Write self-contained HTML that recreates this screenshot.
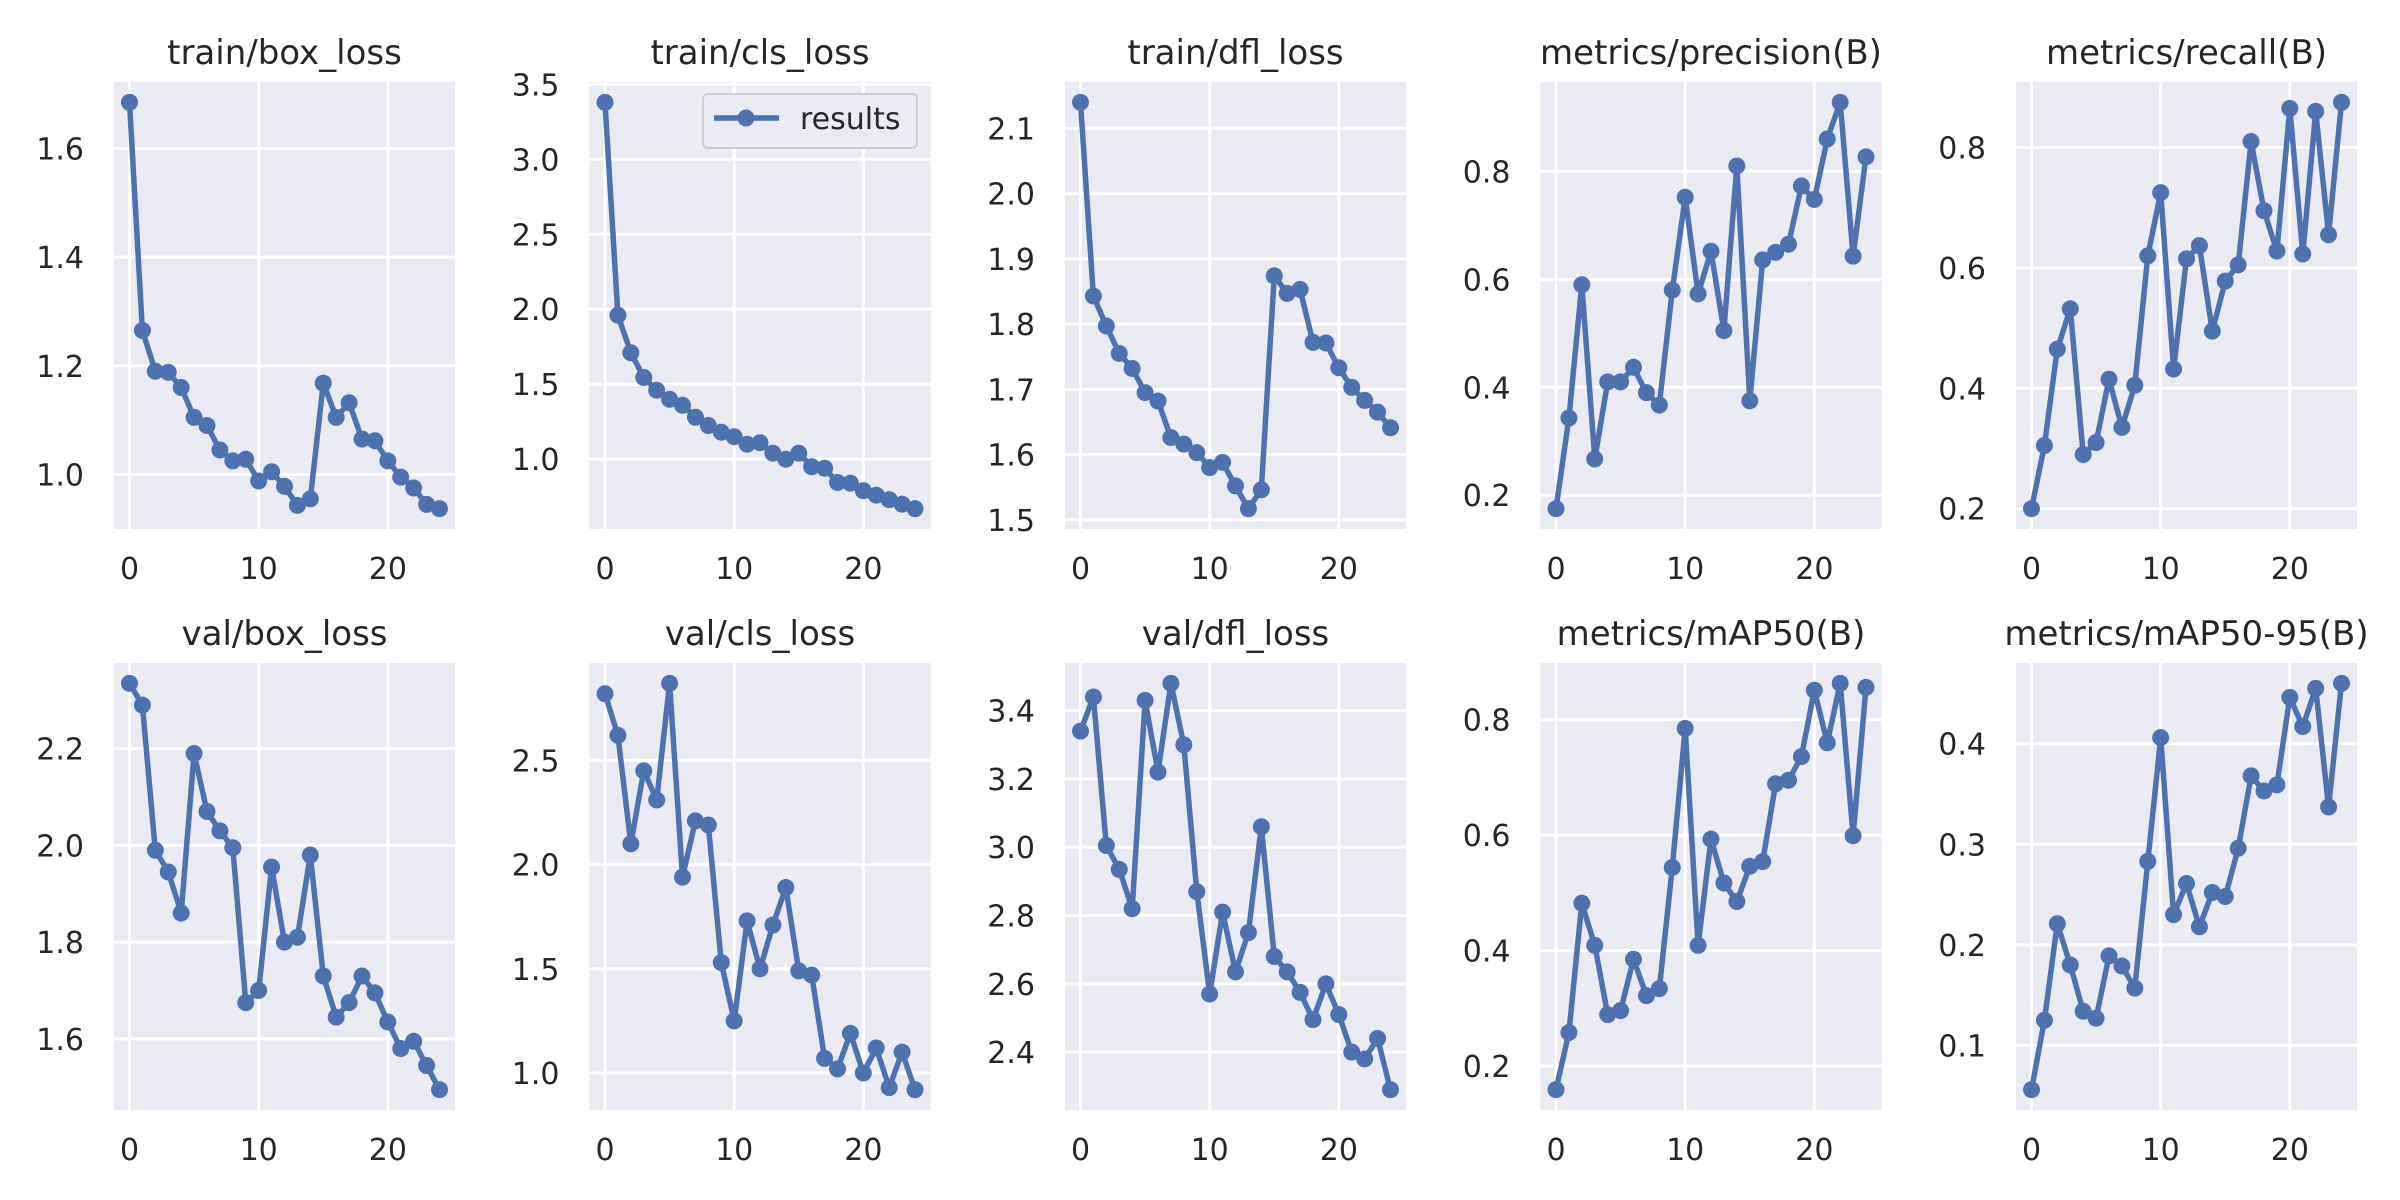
<!DOCTYPE html>
<html><head><meta charset="utf-8"><style>
html,body{margin:0;padding:0;background:#fff;}
svg{display:block;font-family:"DejaVu Sans","Liberation Sans",sans-serif;}
</style></head><body>
<svg id="fig" width="2400" height="1200" viewBox="0 0 2400 1200" xmlns="http://www.w3.org/2000/svg"></svg>
<script>
const titles = ["train/box_loss","train/cls_loss","train/dfl_loss","metrics/precision(B)","metrics/recall(B)","val/box_loss","val/cls_loss","val/dfl_loss","metrics/mAP50(B)","metrics/mAP50-95(B)"];
const epochs = [0,1,2,3,4,5,6,7,8,9,10,11,12,13,14,15,16,17,18,19,20,21,22,23,24];
const xTicks = [0,10,20];
const trainBox = [1.685,1.265,1.19,1.188,1.16,1.105,1.09,1.045,1.025,1.028,0.988,1.005,0.978,0.943,0.955,1.168,1.105,1.132,1.065,1.062,1.025,0.995,0.975,0.945,0.937];
const trainCls = [3.38,1.96,1.71,1.545,1.46,1.40,1.36,1.28,1.225,1.18,1.15,1.10,1.11,1.04,1.0,1.04,0.95,0.94,0.845,0.84,0.79,0.76,0.73,0.70,0.67];
const trainDfl = [2.14,1.843,1.797,1.755,1.732,1.695,1.682,1.626,1.616,1.603,1.58,1.588,1.552,1.517,1.546,1.874,1.847,1.853,1.772,1.771,1.733,1.703,1.683,1.665,1.641];
const precision = [0.175,0.343,0.59,0.267,0.41,0.41,0.437,0.39,0.367,0.58,0.752,0.573,0.652,0.505,0.81,0.375,0.636,0.65,0.665,0.773,0.748,0.86,0.928,0.643,0.827];
const recall = [0.2,0.305,0.465,0.532,0.29,0.31,0.415,0.335,0.405,0.62,0.725,0.432,0.615,0.637,0.495,0.578,0.605,0.81,0.695,0.628,0.865,0.623,0.86,0.655,0.875];
const valBox = [2.335,2.29,1.99,1.945,1.86,2.19,2.07,2.03,1.995,1.675,1.70,1.955,1.80,1.81,1.98,1.73,1.645,1.675,1.73,1.695,1.635,1.58,1.595,1.545,1.495];
const valCls = [2.82,2.62,2.10,2.45,2.31,2.87,1.94,2.21,2.19,1.53,1.25,1.73,1.50,1.71,1.89,1.49,1.47,1.07,1.02,1.19,1.00,1.12,0.93,1.10,0.92];
const valDfl = [3.34,3.44,3.005,2.935,2.82,3.43,3.22,3.48,3.30,2.87,2.57,2.81,2.635,2.75,3.06,2.68,2.635,2.575,2.495,2.60,2.51,2.40,2.38,2.44,2.29];
const map50 = [0.159,0.258,0.482,0.409,0.289,0.296,0.385,0.322,0.334,0.544,0.785,0.409,0.593,0.517,0.485,0.546,0.554,0.689,0.695,0.736,0.851,0.760,0.863,0.599,0.856];
const map5095 = [0.056,0.125,0.221,0.180,0.134,0.127,0.189,0.179,0.157,0.283,0.406,0.230,0.261,0.218,0.252,0.248,0.296,0.368,0.353,0.359,0.446,0.417,0.455,0.337,0.460];
const yTicks0 = ["1.0","1.2","1.4","1.6"];
const yTicks1 = ["1.0","1.5","2.0","2.5","3.0","3.5"];
const yTicks2 = ["1.5","1.6","1.7","1.8","1.9","2.0","2.1"];
const yTicks3 = ["0.2","0.4","0.6","0.8"];
const yTicks4 = ["0.2","0.4","0.6","0.8"];
const yTicks5 = ["1.6","1.8","2.0","2.2"];
const yTicks6 = ["1.0","1.5","2.0","2.5"];
const yTicks7 = ["2.4","2.6","2.8","3.0","3.2","3.4"];
const yTicks8 = ["0.2","0.4","0.6","0.8"];
const yTicks9 = ["0.1","0.2","0.3","0.4"];

const series = [trainBox,trainCls,trainDfl,precision,recall,valBox,valCls,valDfl,map50,map5095];
const ticksAll = [yTicks0,yTicks1,yTicks2,yTicks3,yTicks4,yTicks5,yTicks6,yTicks7,yTicks8,yTicks9];
const NS = "http://www.w3.org/2000/svg";
const svg = document.getElementById("fig");
function mk(tag, attrs, parent){const e=document.createElementNS(NS,tag);for(const k in attrs)e.setAttribute(k,attrs[k]);(parent||svg).appendChild(e);return e;}
const W=341, H=447, COLOR="#4C72B0";
const slug = s => s.replace(/[^a-zA-Z0-9]+/g,'-').replace(/-+$/,'').toLowerCase();

for(let p=0;p<10;p++){
  const col=p%5,row=Math.floor(p/5);
  const L=114+475.5*col, T=row===0?82:663;
  const data=series[p];
  const xmin=Math.min(...epochs), xmax=Math.max(...epochs), xs=xmax-xmin;
  const x0=xmin-0.05*xs, x1=xmax+0.05*xs;
  const ymin=Math.min(...data), ymax=Math.max(...data), ys=ymax-ymin;
  const y0=ymin-0.05*ys, y1=ymax+0.05*ys;
  const X=v=>L+(v-x0)/(x1-x0)*W;
  const Y=v=>T+H-(v-y0)/(y1-y0)*H;
  const g=mk("g",{});
  
  
  const bg=mk("rect",{x:L,y:T,width:W,height:H,fill:"#EAEAF2"},g);
  
  
  for(const t of xTicks){
    const gl=mk("line",{x1:X(t),x2:X(t),y1:T,y2:T+H,stroke:"#fff","stroke-width":3},g);
    
    
    const tl=mk("text",{x:X(t),y:T+H+50,"text-anchor":"middle","font-size":30,fill:"#262626"},g);
    tl.textContent=t;
    
    
  }
  for(const s of ticksAll[p]){
    const v=parseFloat(s);
    const gl=mk("line",{x1:L,x2:L+W,y1:Y(v),y2:Y(v),stroke:"#fff","stroke-width":3},g);
    
    
    const tl=mk("text",{x:L-30,y:Y(v)+11,"text-anchor":"end","font-size":30,fill:"#262626"},g);
    tl.textContent=s;
    
    
  }
  const tt=mk("text",{x:L+W/2,y:T-18,"text-anchor":"middle","font-size":34,fill:"#262626"},g);
  tt.textContent=titles[p];
  
  
  const pts=data.map((v,i)=>X(epochs[i]).toFixed(1)+","+Y(v).toFixed(1)).join(" ");
  const ln=mk("polyline",{points:pts,fill:"none",stroke:COLOR,"stroke-width":5.5,"stroke-linejoin":"round"},g);
  
  
  data.forEach((v,i)=>{
    const c=mk("circle",{cx:X(epochs[i]),cy:Y(v),r:8.5,fill:COLOR},g);
    
    
  });
  if(p===1){
    const lg=mk("g",{},g);
    
    
    mk("rect",{x:703,y:94,width:214,height:54,rx:5,fill:"#EAEAF2",stroke:"#cccccc","stroke-width":2},lg);
    const ll=mk("line",{x1:714,x2:779,y1:118,y2:118,stroke:COLOR,"stroke-width":5.5},lg);
    
    
    mk("circle",{cx:746,cy:118,r:8.5,fill:COLOR},lg);
    const lt=mk("text",{x:800,y:129,"font-size":30,fill:"#262626"},lg);
    lt.textContent="results";
    
    
  }
}
</script>
</body></html>
